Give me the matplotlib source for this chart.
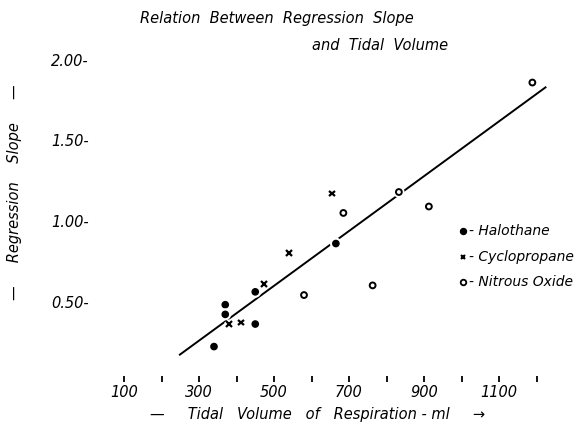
import matplotlib
matplotlib.use("Agg")
import matplotlib.pyplot as plt
import matplotlib.patheffects as pe

# data
halo_x = [340, 370, 370, 450, 450, 665]
halo_y = [0.22, 0.48, 0.42, 0.36, 0.56, 0.86]
cyclo_x = [380, 412, 473, 540, 654]
cyclo_y = [0.36, 0.37, 0.61, 0.80, 1.17]
nitro_x = [580, 685, 763, 833, 913, 1189]
nitro_y = [0.54, 1.05, 0.60, 1.18, 1.09, 1.86]
fit_x = [249, 1224]
fit_y = [0.17, 1.83]

x_ticks = [100, 200, 300, 400, 500, 600, 700, 800, 900, 1000, 1100, 1200]
x_ticklabels = ["100", "", "300", "", "500", "", "700", "", "900", "", "1100", ""]
y_ticks = [0.5, 1.0, 1.5, 2.0]
y_ticklabels = ["0.50-", "1.00-", "1.50-", "2.00-"]

plt.rcParams["font.family"] = ["DejaVu Sans"]
plt.rcParams["font.style"] = "italic"

fig = plt.figure(figsize=(5.81, 4.25), dpi=100)
ax = fig.add_axes([94 / 581, 43 / 425, 465 / 581, 354.2 / 425])
ax.set_xlim(20, 1260)
ax.set_ylim(0, 2.2)

halo = [pe.withStroke(linewidth=4, foreground="white")]
ax.plot(fit_x, fit_y, color="black", lw=1.4, zorder=2)
ax.plot(halo_x, halo_y, "o", ms=4.5, color="black", ls="none", zorder=3,
        path_effects=halo)
ax.plot(cyclo_x, cyclo_y, "x", ms=4, mew=1.6, color="black", ls="none", zorder=3,
        path_effects=halo)
ax.plot(nitro_x, nitro_y, "o", ms=4.2, mfc="white", mec="black", mew=1.4,
        ls="none", zorder=3, path_effects=halo)

for sp in ax.spines.values():
    sp.set_visible(False)

ax.set_xticks(x_ticks)
ax.set_xticklabels(x_ticklabels, fontsize=10.5, style="italic")
ax.tick_params(axis="x", direction="in", length=4, width=1.3, pad=2)
ax.set_yticks(y_ticks)
ax.set_yticklabels(y_ticklabels, fontsize=10.5, style="italic")
ax.tick_params(axis="y", length=0, pad=4)

# legend drawn as text, like the original
leg_items = [("o", "black", "- Halothane"), ("x", None, "- Cyclopropane"),
             ("o", "white", "- Nitrous Oxide")]
for i, (mk, fc, label) in enumerate(leg_items):
    yy = 231 + i * 25.5
    fx, fy = 463 / 581, 1 - yy / 425
    if mk == "x":
        fig.lines.append(plt.Line2D([fx], [fy], marker="x", ms=3.5, mew=1.5,
                                    color="black", transform=fig.transFigure))
    else:
        fig.lines.append(plt.Line2D([fx], [fy], marker="o", ms=4, mfc=fc, mec="black",
                                    mew=1.3, transform=fig.transFigure))
    fig.text(469 / 581, fy, label, fontsize=10, style="italic",
             ha="left", va="center")

fig.text(277 / 581, 1 - 18 / 425, "Relation  Between  Regression  Slope",
         fontsize=10.5, style="italic", ha="center", va="center")
fig.text(380 / 581, 1 - 46 / 425, "and  Tidal  Volume",
         fontsize=10.5, style="italic", ha="center", va="center")
fig.text(318 / 581, 1 - 415 / 425,
         "—     Tidal   Volume   of   Respiration - ml     →",
         fontsize=10.5, style="italic", ha="center", va="center")
fig.text(15 / 581, 1 - 192 / 425, "—     Regression    Slope     —",
         fontsize=10.5, style="italic", rotation=90, ha="center", va="center")

fig.savefig("out.png", dpi=100)
